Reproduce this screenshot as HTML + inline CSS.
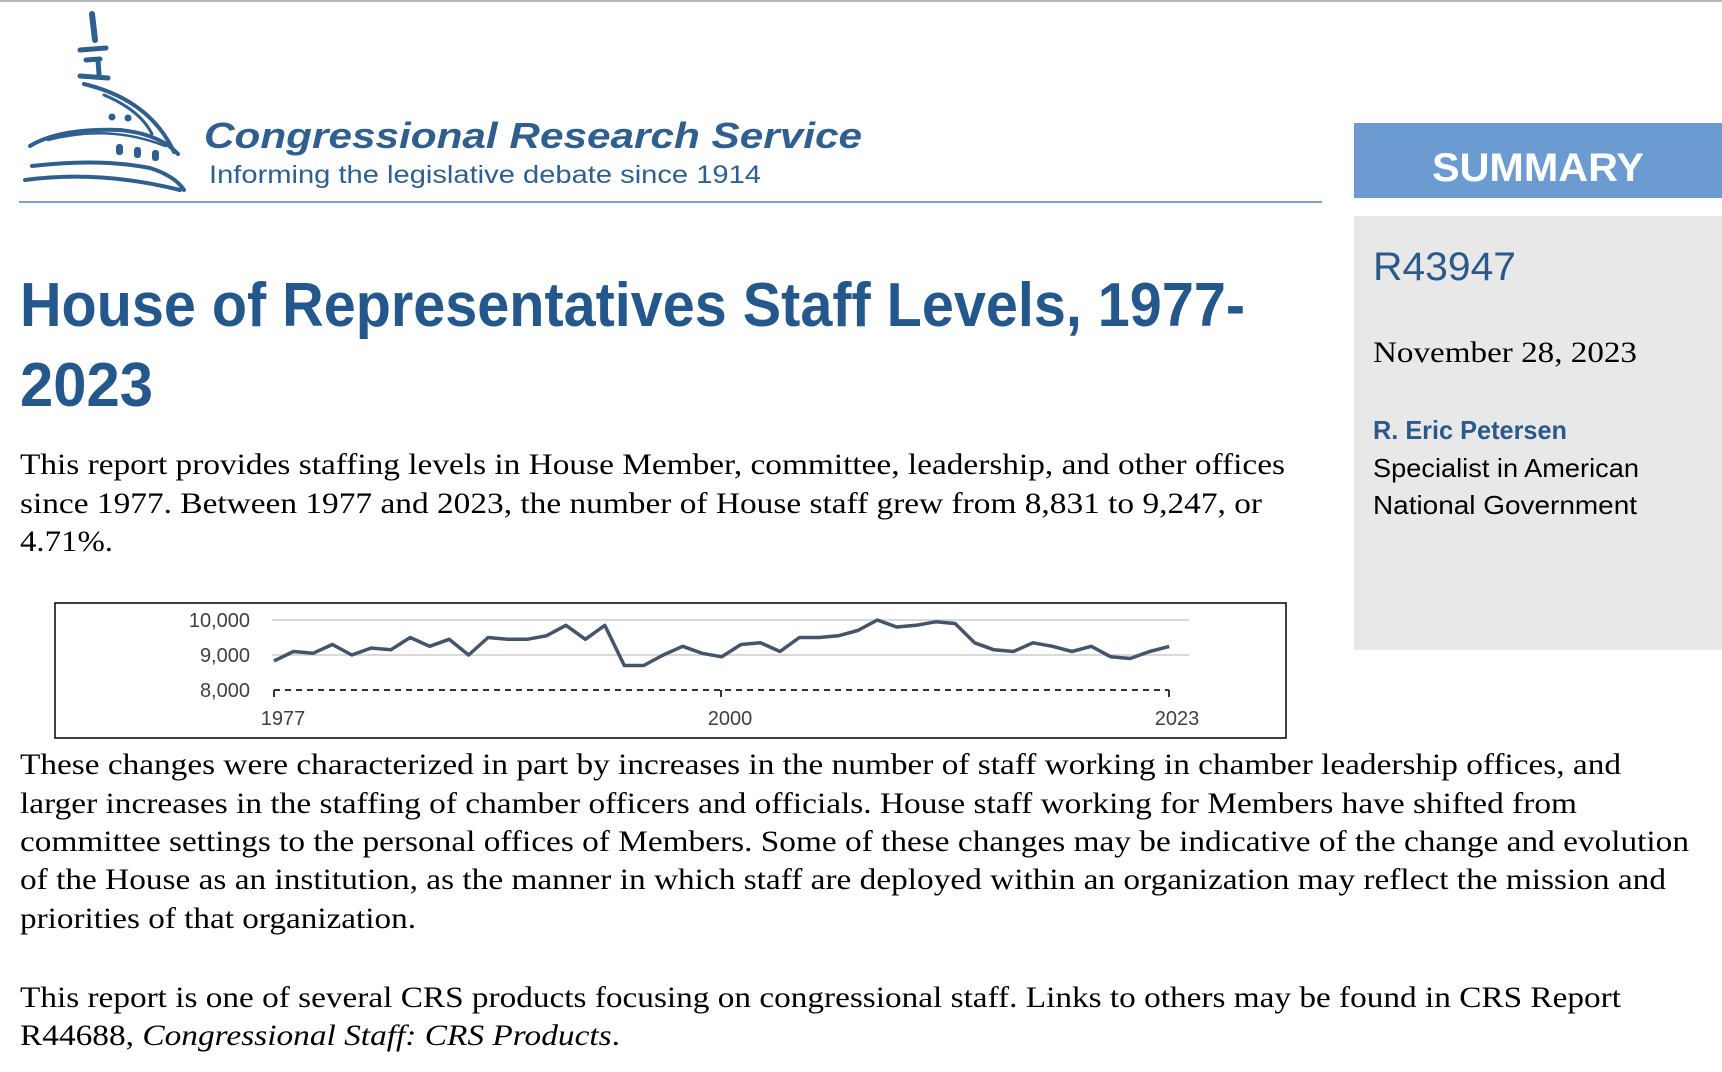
<!DOCTYPE html>
<html><head><meta charset="utf-8"><style>
html,body{margin:0;padding:0;background:#fff;width:1722px;height:1072px;overflow:hidden}
svg{display:block}
.s{font-family:"Liberation Serif",serif;fill:#000}
.a{font-family:"Liberation Sans",sans-serif}
</style></head><body>
<svg width="1722" height="1072" viewBox="0 0 1722 1072" xmlns="http://www.w3.org/2000/svg">
<rect x="0" y="0" width="1722" height="2" fill="#b8b8b8"/>
<!-- logo -->
<g fill="none" stroke="#2e5f8f" stroke-linecap="round">
<path d="M92 14 L95 40" stroke-width="6"/>
<path d="M80 50 L106 48 M86 60 L100 59 M98 60 L99 74 M80 76 L108 78" stroke-width="5"/>
<path d="M84 84 Q150 100 174 152" stroke-width="4"/>
<path d="M104 95 Q140 110 152 134" stroke-width="3"/>
<path d="M30 146 Q60 128 120 130 Q160 134 178 154" stroke-width="4"/>
<path d="M48 140 Q110 124 165 146" stroke-width="2.5"/>
<path d="M32 166 Q100 158 150 168 Q175 176 184 190" stroke-width="4"/>
<path d="M25 180 Q100 170 180 190" stroke-width="4"/>
</g>
<g fill="#2e5f8f">
<circle cx="112" cy="117" r="3.5"/><circle cx="128" cy="118" r="3.5"/>
<rect x="116" y="144" width="7" height="11" rx="3"/><rect x="134" y="147" width="7" height="11" rx="3"/><rect x="152" y="150" width="7" height="11" rx="3"/>
</g>
<text x="204" y="148" class="a" font-size="36" font-weight="bold" font-style="italic" fill="#2e5f8f" textLength="658" lengthAdjust="spacingAndGlyphs">Congressional Research Service</text>
<text x="209" y="183" class="a" font-size="25" fill="#2e5f8f" textLength="552" lengthAdjust="spacingAndGlyphs">Informing the legislative debate since 1914</text>
<rect x="19" y="201" width="1303" height="2" fill="#7ba3cc"/>
<!-- summary -->
<rect x="1354" y="123" width="368" height="75" fill="#6b9bd1"/>
<text x="1538" y="181" class="a" font-size="40" font-weight="bold" fill="#fff" text-anchor="middle" textLength="212" lengthAdjust="spacingAndGlyphs">SUMMARY</text>
<rect x="1354" y="216" width="368" height="434" fill="#e8e8e8"/>
<text x="1373" y="280" class="a" font-size="40" fill="#2b5a8a" textLength="143" lengthAdjust="spacingAndGlyphs">R43947</text>
<text x="1373" y="362" class="s" font-size="30" textLength="264" lengthAdjust="spacingAndGlyphs">November 28, 2023</text>
<text x="1373" y="439" class="a" font-size="26" font-weight="bold" fill="#2b5a8a" textLength="194" lengthAdjust="spacingAndGlyphs">R. Eric Petersen</text>
<text x="1373" y="477" class="a" font-size="26" fill="#000" textLength="266" lengthAdjust="spacingAndGlyphs">Specialist in American</text>
<text x="1373" y="514" class="a" font-size="26" fill="#000" textLength="264" lengthAdjust="spacingAndGlyphs">National Government</text>
<!-- title -->
<text x="20" y="326" class="a" font-size="62" font-weight="bold" fill="#24578c" textLength="1225" lengthAdjust="spacingAndGlyphs">House of Representatives Staff Levels, 1977-</text>
<text x="20" y="406" class="a" font-size="62" font-weight="bold" fill="#24578c" textLength="133" lengthAdjust="spacingAndGlyphs">2023</text>
<!-- p1 -->
<g class="s" font-size="30">
<text x="20" y="474" textLength="1265" lengthAdjust="spacingAndGlyphs">This report provides staffing levels in House Member, committee, leadership, and other offices</text>
<text x="20" y="513" textLength="1242" lengthAdjust="spacingAndGlyphs">since 1977. Between 1977 and 2023, the number of House staff grew from 8,831 to 9,247, or</text>
<text x="20" y="551" textLength="93" lengthAdjust="spacingAndGlyphs">4.71%.</text>
</g>
<!-- chart -->
<rect x="55" y="603" width="1231" height="135" fill="#fff" stroke="#000" stroke-width="1.5"/>
<line x1="272" y1="620" x2="1189" y2="620" stroke="#d9d9d9" stroke-width="2"/>
<line x1="272" y1="655" x2="1189" y2="655" stroke="#d9d9d9" stroke-width="2"/>
<line x1="274" y1="690" x2="1169" y2="690" stroke="#333" stroke-width="2" stroke-dasharray="6,5"/>
<path d="M274 690 V697 M721 690 V697 M1169 690 V697" stroke="#333" stroke-width="2"/>
<g class="a" font-size="20" fill="#404040">
<text x="250" y="627" text-anchor="end">10,000</text>
<text x="250" y="662" text-anchor="end">9,000</text>
<text x="250" y="697" text-anchor="end">8,000</text>
<text x="283" y="725" text-anchor="middle">1977</text>
<text x="730" y="725" text-anchor="middle">2000</text>
<text x="1177" y="725" text-anchor="middle">2023</text>
</g>
<polyline id="ln" fill="none" stroke="#44546a" stroke-width="3.5" stroke-linejoin="round" points=""/>
<!-- p2 -->
<g class="s" font-size="30">
<text x="20" y="774" textLength="1601" lengthAdjust="spacingAndGlyphs">These changes were characterized in part by increases in the number of staff working in chamber leadership offices, and</text>
<text x="20" y="813" textLength="1557" lengthAdjust="spacingAndGlyphs">larger increases in the staffing of chamber officers and officials. House staff working for Members have shifted from</text>
<text x="20" y="851" textLength="1669" lengthAdjust="spacingAndGlyphs">committee settings to the personal offices of Members. Some of these changes may be indicative of the change and evolution</text>
<text x="20" y="889" textLength="1646" lengthAdjust="spacingAndGlyphs">of the House as an institution, as the manner in which staff are deployed within an organization may reflect the mission and</text>
<text x="20" y="928" textLength="396" lengthAdjust="spacingAndGlyphs">priorities of that organization.</text>
<text x="20" y="1007" textLength="1601" lengthAdjust="spacingAndGlyphs">This report is one of several CRS products focusing on congressional staff. Links to others may be found in CRS Report</text>
<text x="20" y="1045" textLength="600" lengthAdjust="spacingAndGlyphs">R44688, <tspan font-style="italic">Congressional Staff: CRS Products</tspan>.</text>
</g>
</svg>
<script>
var v=[8831,9100,9050,9300,9000,9200,9150,9500,9250,9450,9000,9500,9450,9450,9550,9850,9450,9850,8700,8700,9000,9250,9050,8950,9300,9350,9100,9500,9500,9550,9700,10000,9800,9850,9950,9900,9350,9150,9100,9350,9250,9100,9250,8950,8900,9100,9247];
var p=v.map(function(d,i){return (274+i*19.46).toFixed(1)+","+(655-(d-9000)*0.035).toFixed(1)}).join(" ");
document.getElementById("ln").setAttribute("points",p);
</script>
</body></html>
